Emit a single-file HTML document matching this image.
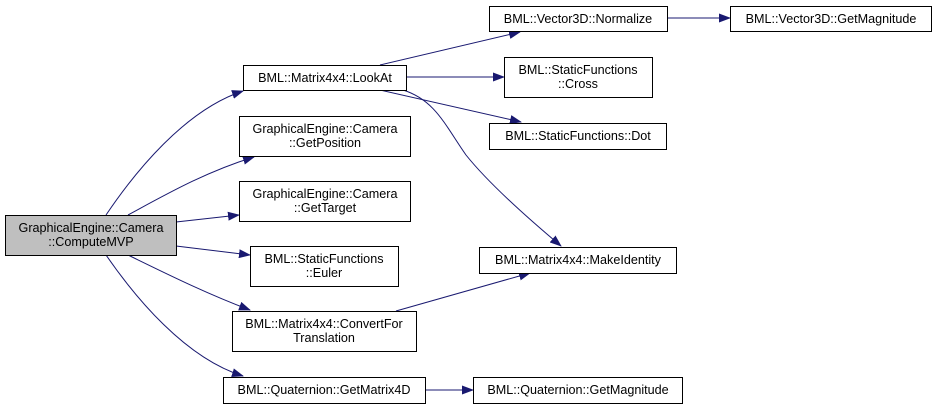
<!DOCTYPE html>
<html><head><meta charset="utf-8"><style>
html,body{margin:0;padding:0;background:#fff;}
svg{display:block;}
text{font-family:"Liberation Sans",Arial,sans-serif;font-size:12.6px;fill:#000;}
</style></head><body>
<svg width="936" height="409" viewBox="0 0 936 409" xmlns="http://www.w3.org/2000/svg">
<defs>
<marker id="a" markerWidth="12" markerHeight="9" refX="11" refY="4.5" orient="auto" markerUnits="userSpaceOnUse">
<path d="M0,0 L12,4.5 L0,9 Z" fill="#191970"/>
</marker>
</defs>
<g fill="none" stroke="#191970" stroke-width="1" marker-end="url(#a)">
<path d="M106,215 C135,172 185,110 243,91"/>
<path d="M128,215 C165,195 205,172 254,157"/>
<path d="M176,222 L239,215"/>
<path d="M176,246 L250,255"/>
<path d="M128,255 C165,273 205,293 250,310"/>
<path d="M106,255 C135,297 185,358 243,376"/>
<path d="M380,65 L520,32"/>
<path d="M406,77 L504,77"/>
<path d="M380,90 L521,122"/>
<path d="M403,90 C435,100 445,125 466,155 C490,185 530,220 561,246"/>
<path d="M396,311 L530,273"/>
<path d="M425,390 L473,390"/>
<path d="M667,18 L730,18"/>
</g>
<g stroke="#000" stroke-width="1">
<rect x="5.5" y="215.5" width="171" height="40" fill="#bfbfbf"/>
<rect x="243.5" y="65.5" width="163" height="25" fill="#fff"/>
<rect x="239.5" y="116.5" width="171" height="40" fill="#fff"/>
<rect x="239.5" y="181.5" width="171" height="40" fill="#fff"/>
<rect x="250.5" y="246.5" width="148" height="40" fill="#fff"/>
<rect x="232.5" y="311.5" width="184" height="40" fill="#fff"/>
<rect x="223.5" y="377.5" width="202" height="26" fill="#fff"/>
<rect x="489.5" y="6.5" width="178" height="25" fill="#fff"/>
<rect x="730.5" y="6.5" width="201" height="25" fill="#fff"/>
<rect x="504.5" y="57.5" width="148" height="40" fill="#fff"/>
<rect x="489.5" y="123.5" width="177" height="26" fill="#fff"/>
<rect x="479.5" y="247.5" width="197" height="26" fill="#fff"/>
<rect x="473.5" y="377.5" width="209" height="26" fill="#fff"/>
</g>
<g text-anchor="middle">
<text x="91" y="232">GraphicalEngine::Camera</text>
<text x="91" y="246">::ComputeMVP</text>
<text x="325" y="82">BML::Matrix4x4::LookAt</text>
<text x="325" y="133">GraphicalEngine::Camera</text>
<text x="325" y="147">::GetPosition</text>
<text x="325" y="198">GraphicalEngine::Camera</text>
<text x="325" y="212">::GetTarget</text>
<text x="324" y="263">BML::StaticFunctions</text>
<text x="324" y="277">::Euler</text>
<text x="324" y="328">BML::Matrix4x4::ConvertFor</text>
<text x="324" y="342">Translation</text>
<text x="324" y="394">BML::Quaternion::GetMatrix4D</text>
<text x="578" y="23">BML::Vector3D::Normalize</text>
<text x="831" y="23">BML::Vector3D::GetMagnitude</text>
<text x="578" y="74">BML::StaticFunctions</text>
<text x="578" y="88">::Cross</text>
<text x="578" y="140">BML::StaticFunctions::Dot</text>
<text x="578" y="264">BML::Matrix4x4::MakeIdentity</text>
<text x="578" y="394">BML::Quaternion::GetMagnitude</text>
</g>
</svg>
</body></html>
